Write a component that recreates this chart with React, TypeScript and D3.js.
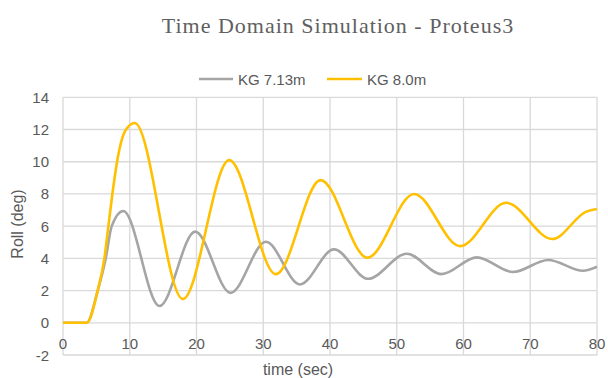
import React from "react";
import * as d3 from "d3";

const title = "Time Domain Simulation - Proteus3";
const seriesNames = ["KG 7.13m", "KG 8.0m"];
const xTicks = [0, 10, 20, 30, 40, 50, 60, 70, 80];
const yTicks = [-2, 0, 2, 4, 6, 8, 10, 12, 14];

// Roll (deg) vs time (sec) (onset, rise, then turning points)
const kg713: [number, number][] = [
  [0, 0], [3.55, 0], [5.2, 2], [6.4, 4], [7.3, 6], [9.03, 6.94],
  [14.45, 1.04], [19.8, 5.66], [25.1, 1.86], [30.4, 5.03], [35.5, 2.38],
  [40.6, 4.56], [45.7, 2.73], [51.5, 4.29], [56.7, 3.02], [62, 4.06],
  [67.4, 3.15], [72.7, 3.9], [77.9, 3.23], [80, 3.48],
];

const kg80: [number, number][] = [
  [0, 0], [3.55, 0], [5.2, 2], [6.2, 4], [6.8, 6], [7.4, 8], [8.1, 10], [9.3, 11.9],
  [10.75, 12.4], [17.95, 1.48], [24.9, 10.1], [31.9, 3.02], [38.6, 8.86],
  [45.6, 4.04], [52.6, 8.0], [59.5, 4.76], [66.4, 7.45], [73.3, 5.2], [78.4, 6.9], [80, 7.06],
];

const colors = ["#A5A5A5", "#FFC000"];

export default function App() {
  const W = 608, H = 378;
  const x = d3.scaleLinear().domain([0, 80]).range([63, 597]);
  const y = d3.scaleLinear().domain([-2, 14]).range([355, 97.3]);
  const line = d3
    .line<[number, number]>()
    .x((d) => x(d[0]))
    .y((d) => y(d[1]))
    .curve(d3.curveMonotoneX);
  const font = "'Liberation Sans', Arial, sans-serif";
  const textColor = "#595959";
  const data = [kg713, kg80];
  return (
    <svg width={W} height={H} style={{ position: "absolute", left: 0, top: 0, background: "#fff" }}>
      <rect x={0} y={0} width={W} height={H} fill="#fff" />
      <text x={338} y={33} textAnchor="middle" fontFamily="'Liberation Serif', serif" fontSize={22} fill="#606060" letterSpacing={1}>
        {title}
      </text>
      {/* legend */}
      <g fontFamily={font} fontSize={15} fill={textColor}>
        <line x1={199} x2={233} y1={79} y2={79} stroke={colors[0]} strokeWidth={2.5} />
        <text x={238} y={84.5}>{seriesNames[0]}</text>
        <line x1={327} x2={362} y1={79} y2={79} stroke={colors[1]} strokeWidth={2.5} />
        <text x={367} y={84.5}>{seriesNames[1]}</text>
      </g>
      {/* grid */}
      <g stroke="#D9D9D9" strokeWidth={1.3}>
        {yTicks.map((t) => (
          <line key={"y" + t} x1={x(0)} x2={x(80)} y1={y(t)} y2={y(t)} />
        ))}
        {xTicks.map((t) => (
          <line key={"x" + t} x1={x(t)} x2={x(t)} y1={y(-2)} y2={y(14)} />
        ))}
      </g>
      {/* ticks */}
      <g fontFamily={font} fontSize={15} fill={textColor}>
        {yTicks.map((t) => (
          <text key={"yl" + t} x={49} y={y(t) + 5.5} textAnchor="end">{t}</text>
        ))}
        {xTicks.map((t) => (
          <text key={"xl" + t} x={x(t)} y={348.5} textAnchor="middle">{t}</text>
        ))}
      </g>
      <text x={298} y={375} textAnchor="middle" fontFamily={font} fontSize={16} fill={textColor}>time (sec)</text>
      <text transform="translate(23,224) rotate(-90)" textAnchor="middle" fontFamily={font} fontSize={16} fill={textColor}>Roll (deg)</text>
      {data.map((d, i) => (
        <path key={i} d={line(d) || ""} fill="none" stroke={colors[i]} strokeWidth={2.6} strokeLinejoin="round" />
      ))}
    </svg>
  );
}
